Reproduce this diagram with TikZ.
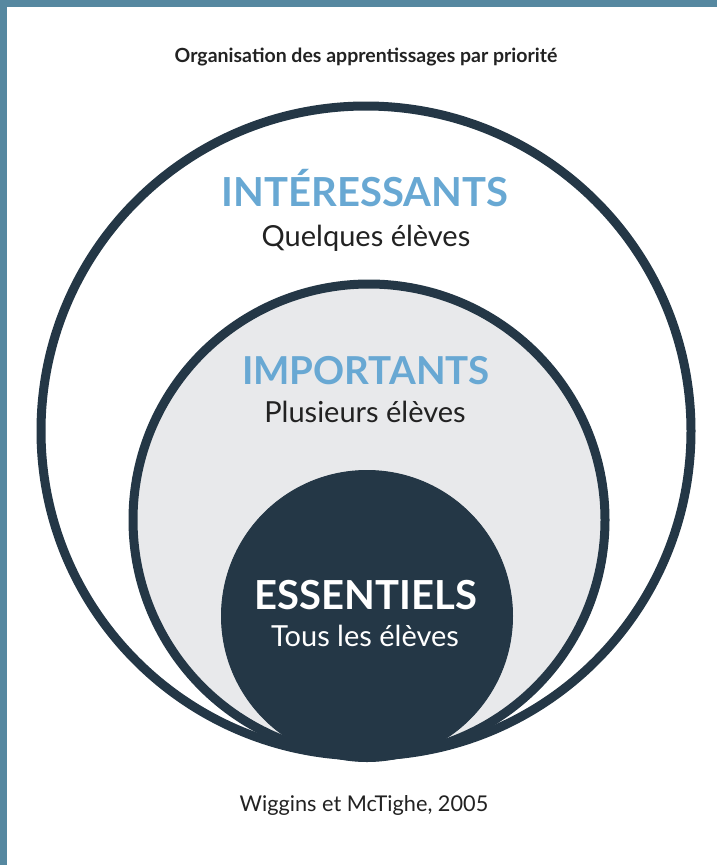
\documentclass[tikz,border=0pt]{standalone}
\usepackage{fontspec}
\setmainfont{Lato}
\definecolor{navy}{HTML}{243746}
\definecolor{framebl}{HTML}{5688A0}
\definecolor{lightbl}{HTML}{68A8D3}
\definecolor{ringfill}{HTML}{E8E9EB}
\definecolor{txtdark}{HTML}{222222}
\tikzset{
  ring/.style={circle, draw=navy, line width=9pt, inner sep=0pt},
  head/.style={font=\fontsize{40}{44}\selectfont\bfseries, inner sep=0pt, anchor=base},
  sub/.style={font=\fontsize{29}{32}\selectfont, inner sep=0pt, anchor=base},
  note/.style={font=\fontsize{21.7}{26}\selectfont, text=txtdark, inner sep=0pt, anchor=base}
}
\begin{document}
\begin{tikzpicture}[x=1pt,y=-1pt]
\useasboundingbox (0,0) rectangle (717,865);
\fill[white] (0,0) rectangle (717,865);
\fill[framebl] (0,0) rectangle (717,7);
\fill[framebl] (0,0) rectangle (7,865);
% circles
\node[ring, fill=white, minimum size=650pt] (outer) at (366,431) {};
\node[ring, fill=ringfill, minimum size=472pt] (middle) at (369,520) {};
\node[circle, fill=navy, draw=navy, line width=1pt, inner sep=0pt, minimum size=291pt] (inner) at (367,616) {};
% texts
\node[font=\fontsize{19.5}{23}\selectfont\bfseries, text=txtdark, inner sep=0pt, anchor=base] (title) at (366,62) {Organisation des apprentissages par priorité};
\node[head, text=lightbl] (int) at (365,206) {INTÉRESSANTS};
\node[sub, text=txtdark] (intsub) at (366,246) {Quelques élèves};
\node[head, font=\fontsize{38.5}{42}\selectfont\bfseries, text=lightbl] (imp) at (366,384) {IMPORTANTS};
\node[sub, text=txtdark] (impsub) at (365,422) {Plusieurs élèves};
\node[head, text=white] (ess) at (366,609) {ESSENTIELS};
\node[sub, text=white] (esssub) at (365,646) {Tous les élèves};
\node[note] (cite) at (364,811) {Wiggins et McTighe, 2005};
\end{tikzpicture}
\end{document}
